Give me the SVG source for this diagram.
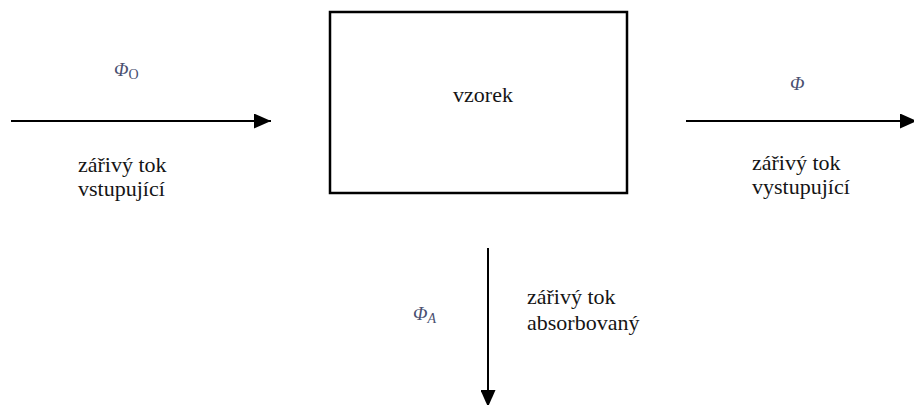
<svg xmlns="http://www.w3.org/2000/svg" width="914" height="405" viewBox="0 0 914 405">
  <style>
    .lbl { font-family: "Liberation Serif", "DejaVu Serif", serif; font-size: 22px; fill: #151515; }
    .sym { font-family: "Liberation Serif", "DejaVu Serif", serif; font-style: italic; font-size: 19px; fill: #4a5070; }
    .sub { font-size: 14px; }
    .flow { stroke: #000; stroke-width: 2; fill: none; }
  </style>
  <defs>
    <marker id="head" viewBox="0 0 17 15" refX="17" refY="7.5" markerWidth="17" markerHeight="15" markerUnits="userSpaceOnUse" orient="auto">
      <path d="M0,0 L17,7.5 L0,15 Z" fill="#000"/>
    </marker>
  </defs>
  <rect width="914" height="405" fill="#fff"/>

  <g id="sample">
    <rect x="330" y="12" width="297" height="181" fill="#fff" stroke="#000" stroke-width="2.5"/>
    <text class="lbl" x="483" y="102" text-anchor="middle">vzorek</text>
  </g>

  <g id="connectors">
    <line class="flow" x1="11" y1="121" x2="271" y2="121" marker-end="url(#head)"/>
    <line class="flow" x1="686" y1="121" x2="917" y2="121" marker-end="url(#head)"/>
    <line class="flow" x1="488" y1="248" x2="488" y2="407" marker-end="url(#head)"/>
  </g>

  <g id="incoming">
    <text class="sym" x="114" y="76">Φ<tspan class="sub" dy="3" font-style="normal">O</tspan></text>
    <text class="lbl" x="78" y="172">zářivý tok</text>
    <text class="lbl" x="78" y="196">vstupující</text>
  </g>

  <g id="outgoing">
    <text class="sym" x="790" y="90">Φ</text>
    <text class="lbl" x="752" y="170">zářivý tok</text>
    <text class="lbl" x="752" y="194">vystupující</text>
  </g>

  <g id="absorbed">
    <text class="sym" x="413" y="320">Φ<tspan class="sub" dy="3">A</tspan></text>
    <text class="lbl" x="527" y="304">zářivý tok</text>
    <text class="lbl" x="527" y="330">absorbovaný</text>
  </g>
</svg>
